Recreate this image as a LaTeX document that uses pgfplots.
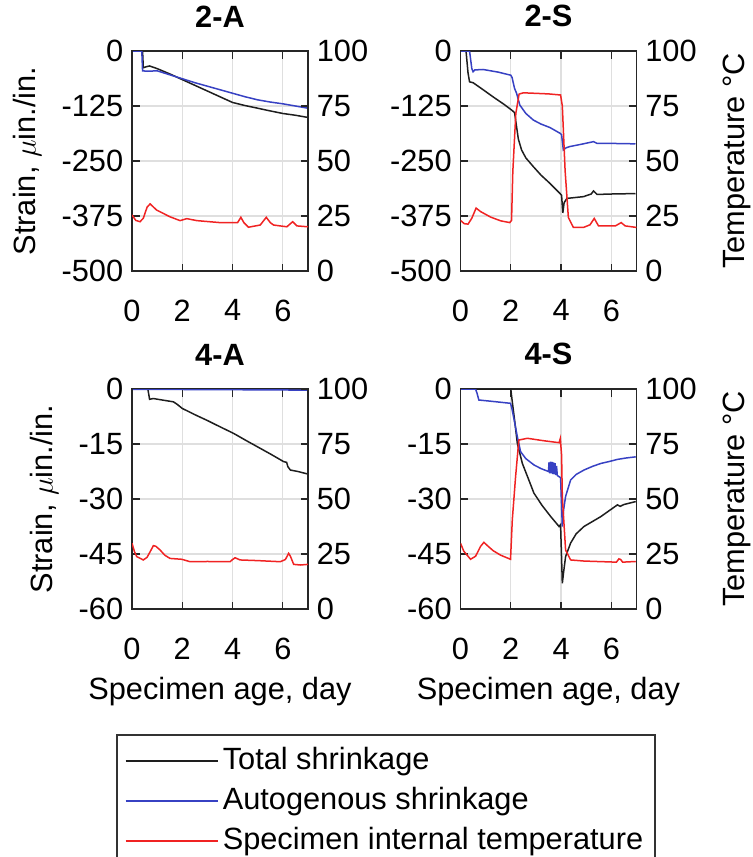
\documentclass[border=0pt]{standalone}
\usepackage{fontspec}
\setmainfont{Liberation Sans}
\usepackage{pgfplots}
\pgfplotsset{compat=1.18}
\newcommand\fs{\fontsize{12.3}{14.5}\selectfont}
\definecolor{mblue}{RGB}{55,65,195}
\definecolor{mred}{RGB}{240,35,35}
\definecolor{mblack}{RGB}{30,30,30}
\pgfplotsset{
  panel/.style={scale only axis, width=70.4pt, height=88pt,
    xmin=0, xmax=7, xtick={0,2,4,6}, xticklabels={0,2,4,6},
    tick align=inside, major tick length=3pt,
    axis line style={black!85, line width=0.5pt},
    every tick/.style={black!85, line width=0.5pt},
    font=\fs, title style={font=\fs\bfseries, yshift=0pt}},
  strainA/.style={panel, ymin=-500, ymax=0, ytick={-500,-375,-250,-125,0},
    yticklabels={-500,-375,-250,-125,0}},
  strainB/.style={panel, ymin=-60, ymax=0, ytick={-60,-45,-30,-15,0},
    yticklabels={-60,-45,-30,-15,0}},
  leftax/.style={grid=major, grid style={gray!25, line width=0.5pt},
    xtick pos=both, ytick pos=left, xticklabel style={yshift=-8pt},
    ylabel shift=1.2pt},
  rightax/.style={panel, ymin=0, ymax=100, ytick={0,25,50,75,100},
    yticklabels={0,25,50,75,100}, hide x axis, ytick pos=right, yticklabel pos=right,
    ylabel shift=3.5pt},
  tot/.style={mblack, line width=0.6pt},
  aut/.style={mblue, line width=0.6pt},
  tmp/.style={mred, line width=0.6pt},
}
\begin{document}
\begin{tikzpicture}
\useasboundingbox (0,0) rectangle (300.8pt,-342.8pt);
% ---------------- 2-A ----------------
\begin{axis}[strainA, leftax, at={(52.8pt,-108.4pt)}, anchor=south west,
  title={2-A}, ylabel={Strain, $\mu$in./in.}]
\addplot[tot] coordinates {(0,0) (0.42,0) (0.45,-38) (0.55,-36) (0.7,-34) (1.0,-40) (1.5,-52) (2.0,-65) (2.5,-78) (3.0,-91) (3.5,-104) (4.0,-117) (4.5,-124) (5.0,-130) (5.4,-135) (6.0,-142) (6.5,-146) (7.0,-151)};
\addplot[aut] coordinates {(0,0) (0.39,0) (0.42,-45) (0.6,-46) (1.0,-45) (1.5,-54) (2.0,-63) (2.5,-72) (3.0,-80) (3.5,-88) (4.0,-96) (4.5,-104) (5.0,-111) (5.5,-116) (6.0,-120) (6.5,-125) (7.0,-130)};
\end{axis}
\begin{axis}[rightax, at={(52.8pt,-108.4pt)}, anchor=south west]
\addplot[tmp] coordinates {(0,25.5) (0.15,23) (0.32,22.4) (0.45,24) (0.6,29) (0.72,30.5) (0.98,27.7) (1.5,24.7) (1.91,22.9) (2.18,23.8) (2.58,22.9) (3.5,22) (4.2,22) (4.33,24.4) (4.45,22) (4.63,19.9) (5.1,20.9) (5.34,24.4) (5.5,22) (5.63,20.9) (6.16,20.1) (6.39,22.4) (6.56,20.5) (7,20.1)};
\end{axis}
% ---------------- 2-S ----------------
\begin{axis}[strainA, leftax, at={(184.2pt,-108.4pt)}, anchor=south west,
  title={2-S}]
\addplot[tot] coordinates {(0,0) (0.22,0) (0.3,-50) (0.36,-70) (0.5,-72) (0.9,-88) (1.29,-104) (1.7,-120) (2.03,-134) (2.15,-140) (2.2,-160) (2.3,-200) (2.43,-225) (2.6,-243) (2.9,-263) (3.2,-282) (3.56,-301) (3.96,-324) (4.02,-328) (4.07,-368) (4.12,-345) (4.23,-335) (4.89,-331) (5.2,-325) (5.29,-318) (5.43,-326) (6.0,-325) (6.96,-324)};
\addplot[aut] coordinates {(0,0) (0.36,0) (0.45,-40) (0.5,-47) (0.57,-43) (0.9,-42) (1.5,-48) (2.0,-55) (2.05,-60) (2.15,-85) (2.23,-96) (2.36,-123) (2.6,-142) (2.9,-157) (3.2,-166) (3.56,-174) (3.96,-187) (4.02,-190) (4.09,-225) (4.2,-220) (4.36,-217) (4.8,-212) (5.29,-206) (5.43,-210) (6.0,-210) (6.96,-211)};
\end{axis}
\begin{axis}[rightax, at={(184.2pt,-108.4pt)}, anchor=south west,
  ylabel={Temperature °C}]
\addplot[tmp] coordinates {(0,23) (0.15,21.5) (0.3,21.3) (0.45,24) (0.62,28.6) (0.8,27) (1.2,24.5) (1.6,22.8) (1.96,22) (2.03,23) (2.08,45) (2.2,71.6) (2.33,80.4) (2.5,81) (3.5,80.5) (3.98,80) (4.05,75) (4.16,45.7) (4.29,24.3) (4.49,19.8) (4.89,19.8) (5.15,21) (5.32,23.9) (5.49,20.5) (6.16,20.5) (6.39,22) (6.55,20.5) (7,19.8)};
\end{axis}
% ---------------- 4-A ----------------
\begin{axis}[strainB, leftax, at={(52.8pt,-243.6pt)}, anchor=south west,
  title={4-A}, ylabel={Strain, $\mu$in./in.}, xlabel={Specimen age, day}]
\addplot[tot] coordinates {(0,0) (0.63,0) (0.7,-2.8) (0.85,-2.6) (1.2,-3.0) (1.65,-3.5) (1.8,-4.2) (2.0,-5.3) (2.5,-7.0) (3.0,-8.6) (3.5,-10.3) (4.04,-12.1) (4.5,-13.9) (5.0,-15.8) (5.5,-17.7) (6.03,-19.8) (6.15,-20.0) (6.2,-21.2) (6.3,-22.1) (6.6,-22.5) (7,-23.2)};
\addplot[aut] coordinates {(0,-0.1) (3,-0.15) (7,-0.3)};
\end{axis}
\begin{axis}[rightax, at={(52.8pt,-243.6pt)}, anchor=south west]
\addplot[tmp] coordinates {(0,29.9) (0.1,26) (0.19,23.8) (0.45,22.3) (0.6,23.5) (0.72,26) (0.85,28.8) (0.95,28.5) (1.12,26.8) (1.3,24.5) (1.51,23) (1.98,22.6) (2.31,21.5) (3.0,21.6) (3.9,21.5) (4.0,22.5) (4.1,23.3) (4.3,22.3) (5.0,22) (5.9,21.5) (6.1,22.5) (6.23,25.3) (6.3,24) (6.43,20.3) (6.7,20) (7,20.3)};
\end{axis}
% ---------------- 4-S ----------------
\begin{axis}[strainB, leftax, at={(184.2pt,-243.6pt)}, anchor=south west,
  title={4-S}, xlabel={Specimen age, day}]
\addplot[tot] coordinates {(0,0) (2.0,0) (2.06,-3.5) (2.16,-9) (2.26,-14.8) (2.46,-20.3) (2.7,-24.5) (2.92,-28.4) (3.25,-31.8) (3.59,-34.8) (3.92,-37.5) (3.98,-37) (4.05,-53) (4.1,-50) (4.18,-45.7) (4.38,-42) (4.6,-39.5) (4.91,-37.5) (5.58,-34.8) (6.24,-31.6) (6.35,-32) (6.5,-31.5) (6.97,-30.7)};
\addplot[aut] coordinates {(0,0) (0.6,0) (0.66,-1.2) (0.73,-3) (1.3,-3.4) (1.99,-3.9) (2.05,-5.5) (2.15,-9) (2.26,-13) (2.39,-17.1) (2.6,-19) (2.92,-20.7) (3.2,-21.7) (3.5,-22.5) (3.52,-20) (3.55,-23) (3.58,-19.8) (3.61,-23) (3.64,-19.9) (3.67,-23.2) (3.7,-20) (3.73,-23.3) (3.76,-20.2) (3.79,-23.5) (3.82,-21) (3.85,-23.6) (3.92,-23.9) (3.98,-24.2) (4.05,-37.5) (4.1,-33) (4.18,-29.3) (4.38,-24.8) (4.6,-23.3) (4.91,-22.1) (5.25,-21.1) (5.58,-20.3) (5.9,-19.8) (6.24,-19.2) (6.6,-18.8) (6.97,-18.5)};
\end{axis}
\begin{axis}[rightax, at={(184.2pt,-243.6pt)}, anchor=south west,
  ylabel={Temperature °C}]
\addplot[tmp] coordinates {(0,29.9) (0.13,26.3) (0.4,22.6) (0.6,24) (0.8,28.5) (0.93,30.3) (1.1,28.5) (1.3,26.5) (1.59,24.5) (1.99,22.6) (2.06,40.5) (2.19,60) (2.32,76.8) (2.66,77.6) (3.3,76.5) (3.92,75.6) (3.97,77.5) (4.02,70) (4.05,51) (4.18,26.8) (4.38,22.3) (4.91,21.8) (6.2,21.3) (6.3,22.8) (6.37,22.5) (6.45,21.3) (6.97,21.6)};
\end{axis}
% ---------------- legend ----------------
\begin{axis}[hide axis, scale only axis, width=10pt, height=10pt,
  xmin=0, xmax=1, ymin=0, ymax=1,
  at={(46.4pt,-293.6pt)}, anchor=north west,
  legend cell align=left,
  legend image code/.code={\draw[#1] (0pt,0pt) -- (37pt,0pt);},
  legend style={at={(0,1)}, anchor=north west, font=\fs,
    draw=black!80, line width=0.6pt, inner xsep=3.2pt, inner ysep=3.2pt,
    row sep=1.3pt,
    nodes={inner xsep=1.6pt, inner ysep=1.5pt, text height=9pt, text depth=2.7pt}}]
\addlegendimage{tot}
\addlegendentry{Total shrinkage}
\addlegendimage{aut}
\addlegendentry{Autogenous shrinkage}
\addlegendimage{tmp}
\addlegendentry{Specimen internal temperature}
\end{axis}
\end{tikzpicture}
\end{document}
